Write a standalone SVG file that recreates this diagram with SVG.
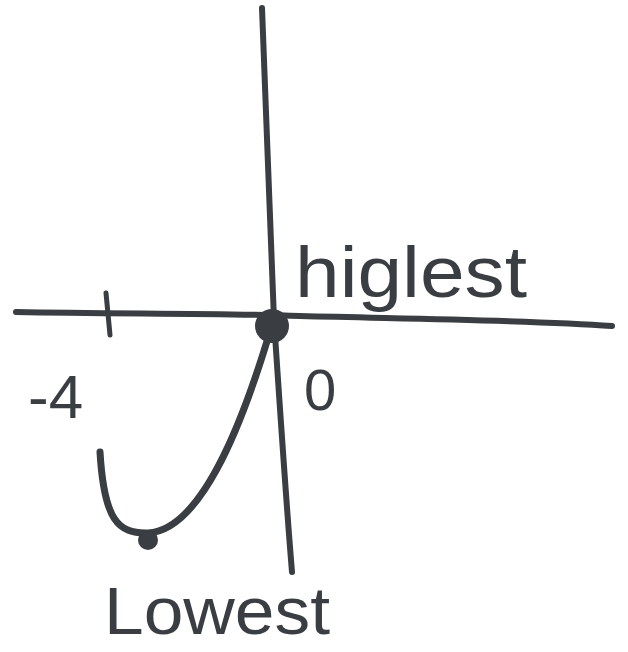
<svg xmlns="http://www.w3.org/2000/svg" width="628" height="652" viewBox="0 0 628 652">
<style>
.ln{fill:none;stroke:#3a3e42;stroke-linecap:round;stroke-linejoin:round}
.tx{fill:#3a3e42;font-family:"Liberation Sans",Arial,sans-serif}
</style>
<rect width="628" height="652" fill="#ffffff"/>
<g id="axes">
<path class="ln" stroke-width="6" d="M16 312 C 120 314, 220 313, 300 316 C 420 319, 530 320, 612 326"/>
<path class="ln" stroke-width="6" d="M262 8 C 266 110, 270 220, 274 320 C 280 410, 286 500, 292 572"/>
<path class="ln" stroke-width="5" d="M106 293 L 110 335"/>
</g>
<g id="curve">
<path class="ln" stroke-width="7" d="M100 452 C 104 520, 118 534, 148 533 C 200 530, 240 430, 268 338"/>
<circle cx="272" cy="326" r="17" fill="#3a3e42"/>
<circle cx="148" cy="540" r="10" fill="#3a3e42"/>
</g>
<g id="labels">
<text class="tx" x="295" y="297" font-size="72" textLength="232" lengthAdjust="spacingAndGlyphs">higlest</text>
<text class="tx" x="28" y="418" font-size="62">-4</text>
<text class="tx" x="304" y="410" font-size="58">0</text>
<text class="tx" x="104" y="634" font-size="66" textLength="226" lengthAdjust="spacingAndGlyphs">Lowest</text>
</g>
</svg>
